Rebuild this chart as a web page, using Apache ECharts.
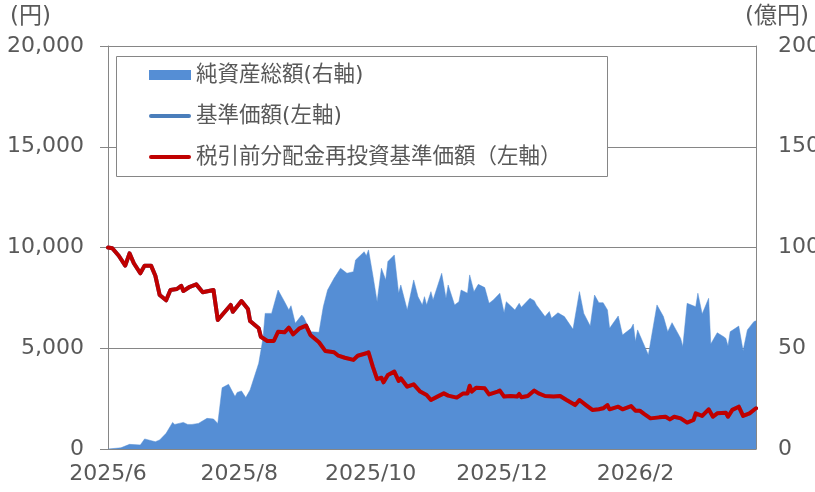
<!DOCTYPE html>
<html>
<head>
<meta charset="utf-8">
<script src="https://cdn.jsdelivr.net/npm/echarts@6/dist/echarts.min.js"></script>
<style>
html,body{margin:0;padding:0;background:#fff;}
#chart{width:815px;height:492px;}
</style>
</head>
<body>
<div id="chart"></div>
<script>
// ---- data ----
const seriesNames = ['純資産総額(右軸)', '基準価額(左軸)', '税引前分配金再投資基準価額（左軸）'];
const monthTicks = ['2025-06-01', '2025-08-01', '2025-10-01', '2025-12-01', '2026-02-01'];
const leftTicks = [0, 5000, 10000, 15000, 20000];
const rightTicks = [0, 50, 100, 150, 200];

const priceDates = [
'2025-06-01','2025-06-03','2025-06-06','2025-06-09','2025-06-11','2025-06-13','2025-06-16','2025-06-18','2025-06-21','2025-06-23',
'2025-06-25','2025-06-28','2025-06-30','2025-07-03','2025-07-05','2025-07-06','2025-07-09','2025-07-12','2025-07-15','2025-07-20',
'2025-07-22','2025-07-24','2025-07-28','2025-07-29','2025-08-02','2025-08-05','2025-08-06','2025-08-10','2025-08-11','2025-08-14',
'2025-08-17','2025-08-19','2025-08-22','2025-08-24','2025-08-26','2025-08-29','2025-09-01','2025-09-03','2025-09-07','2025-09-10',
'2025-09-14','2025-09-16','2025-09-19','2025-09-23','2025-09-25','2025-09-29','2025-09-30','2025-10-02','2025-10-04','2025-10-06',
'2025-10-07','2025-10-09','2025-10-12','2025-10-14','2025-10-15','2025-10-18','2025-10-21','2025-10-24','2025-10-27','2025-10-29',
'2025-11-01','2025-11-04','2025-11-06','2025-11-10','2025-11-13','2025-11-15','2025-11-16','2025-11-17','2025-11-19','2025-11-23',
'2025-11-25','2025-11-29','2025-11-30','2025-12-02','2025-12-05','2025-12-08','2025-12-09','2025-12-10','2025-12-13','2025-12-16',
'2025-12-18','2025-12-21','2025-12-25','2025-12-28','2025-12-31','2026-01-04','2026-01-06','2026-01-09','2026-01-12','2026-01-15',
'2026-01-17','2026-01-19','2026-01-20','2026-01-24','2026-01-26','2026-01-30','2026-02-01','2026-02-03','2026-02-05','2026-02-08',
'2026-02-12','2026-02-15','2026-02-17','2026-02-19','2026-02-22','2026-02-25','2026-02-28','2026-03-01','2026-03-04','2026-03-07',
'2026-03-09','2026-03-11','2026-03-15','2026-03-16','2026-03-18','2026-03-21','2026-03-23','2026-03-26','2026-03-29'
];
// 基準価額 and 税引前分配金再投資基準価額 coincide (no distributions)
const navValues = [
10000,9960,9590,9100,9710,9220,8720,9100,9100,8600,
7640,7380,7890,7940,8100,7840,8050,8170,7780,7890,
6400,6650,7150,6810,7340,6950,6350,5990,5570,5360,
5360,5820,5790,6020,5690,5990,6120,5660,5300,4860,
4800,4630,4530,4420,4630,4750,4800,4090,3470,3540,
3310,3670,3840,3380,3510,3090,3210,2850,2680,2430,
2600,2760,2650,2550,2760,2760,3140,2850,3040,3010,
2710,2850,2900,2600,2630,2600,2730,2570,2630,2900,
2760,2630,2600,2630,2430,2180,2430,2180,1940,1970,
2020,2180,1970,2100,1970,2130,1900,1900,1740,1520,
1570,1600,1470,1600,1520,1310,1440,1770,1640,1970,
1600,1770,1800,1600,1940,2100,1640,1770,2020
];

const assetDates = [
'2025-06-01','2025-06-07','2025-06-11','2025-06-16','2025-06-18','2025-06-23','2025-06-25','2025-06-28','2025-07-01','2025-07-02',
'2025-07-06','2025-07-08','2025-07-10','2025-07-13','2025-07-17','2025-07-20','2025-07-22','2025-07-24','2025-07-27','2025-07-30',
'2025-07-31','2025-08-02','2025-08-04','2025-08-06','2025-08-10','2025-08-12','2025-08-13','2025-08-16','2025-08-19','2025-08-22',
'2025-08-24','2025-08-25','2025-08-27','2025-08-30','2025-08-31','2025-09-03','2025-09-07','2025-09-09','2025-09-11','2025-09-14',
'2025-09-17','2025-09-20','2025-09-23','2025-09-24','2025-09-28','2025-09-29','2025-09-30','2025-10-02','2025-10-04','2025-10-06',
'2025-10-08','2025-10-09','2025-10-12','2025-10-14','2025-10-15','2025-10-18','2025-10-21','2025-10-23','2025-10-25','2025-10-26',
'2025-10-27','2025-10-29','2025-10-30','2025-11-03','2025-11-05','2025-11-06','2025-11-09','2025-11-11','2025-11-12','2025-11-15',
'2025-11-16','2025-11-18','2025-11-20','2025-11-23','2025-11-25','2025-11-27','2025-11-30','2025-12-02','2025-12-03','2025-12-07',
'2025-12-09','2025-12-10','2025-12-14','2025-12-16','2025-12-17','2025-12-21','2025-12-23','2025-12-24','2025-12-27','2025-12-30',
'2026-01-03','2026-01-06','2026-01-08','2026-01-11','2026-01-13','2026-01-15','2026-01-17','2026-01-19','2026-01-20','2026-01-24',
'2026-01-26','2026-01-27','2026-01-30','2026-01-31','2026-02-01','2026-02-02','2026-02-07','2026-02-11','2026-02-14','2026-02-16',
'2026-02-18','2026-02-22','2026-02-23','2026-02-25','2026-03-01','2026-03-02','2026-03-04','2026-03-07','2026-03-08','2026-03-11',
'2026-03-14','2026-03-15','2026-03-16','2026-03-17','2026-03-21','2026-03-23','2026-03-25','2026-03-28','2026-03-29'
];
const assetValues = [
0,0.6,2.3,2.0,5.0,3.6,4.5,7.8,13.2,12.2,
13.2,12.2,12.2,12.7,15.2,14.9,12.7,30.4,32.1,26.0,
28.1,28.8,25.5,29.3,42.5,54.9,67.3,67.3,78.9,73.1,
69.0,71.1,62.4,66.5,65.2,58.2,57.9,70.6,78.9,84.7,
89.7,87.2,88.0,93.8,97.9,95.9,98.8,86.4,73.1,89.7,
83.9,93.0,96.3,77.3,81.4,69.0,83.9,75.6,71.5,75.6,
71.5,78.1,74.0,87.2,74.8,81.4,71.5,73.1,78.9,77.3,
86.4,78.1,81.7,80.1,72.3,74.0,77.3,67.6,73.1,69.0,
72.3,70.3,74.8,73.6,71.5,65.7,68.2,64.9,67.6,65.7,
59.4,78.1,67.3,61.0,76.4,72.6,72.6,69.0,59.9,66.0,
56.6,57.4,59.9,62.0,53.3,59.1,46.7,71.5,65.7,58.2,
62.7,54.9,50.8,72.3,70.6,77.3,67.0,74.8,52.1,57.7,
55.7,54.9,51.1,58.2,61.0,48.8,59.1,63.2,63.6
];
const axisStart = '2025-06-01';
const axisEnd = '2026-03-29';

// ---- chart ----
const FONT = "'DejaVu Sans', 'Noto Sans CJK JP', sans-serif";
const TXT = '#595959';
const AX = '#868686';
const LINE_ICON = 'path://M2,0H40A2,2,0,0,1,40,4H2A2,2,0,0,1,2,0Z';
const ts = d => echarts.time.parse(d).getTime();
const chart = echarts.init(document.getElementById('chart'), null, {renderer: 'canvas'});
const tickTs = monthTicks.map(ts);

chart.setOption({
  animation: false,
  backgroundColor: '#fff',
  textStyle: {fontFamily: FONT},
  grid: {left: 108, right: 59, top: 46, bottom: 43, containLabel: false, outerBoundsMode: 'none'},
  graphic: [
    {type: 'text', left: 10, top: 6, z: 50, style: {text: '(円)', fill: TXT, font: '23px ' + FONT}},
    {type: 'text', left: 745, top: 6, z: 50, style: {text: '(億円)', fill: TXT, font: '23px ' + FONT}},
    {type: 'rect', z: 10, shape: {x: 116.5, y: 56.5, width: 491, height: 120},
      style: {fill: '#fff', stroke: AX, lineWidth: 1}}
  ],
  legend: {
    z: 20,
    left: 149, top: 63,
    orient: 'vertical',
    padding: 0,
    itemGap: 17,
    itemWidth: 42,
    itemHeight: 10,
    symbolKeepAspect: true,
    selectedMode: false,
    textStyle: {fontFamily: FONT, fontSize: 21.5, color: TXT, lineHeight: 24},
    data: [
      {name: seriesNames[0], icon: 'rect'},
      {name: seriesNames[1], icon: LINE_ICON},
      {name: seriesNames[2], icon: LINE_ICON}
    ]
  },
  xAxis: {
    type: 'value',
    min: ts(axisStart),
    max: ts(axisEnd),
    splitLine: {show: false},
    axisLine: {lineStyle: {color: AX, width: 1}},
    axisTick: {show: true, inside: true, length: 6, customValues: tickTs, lineStyle: {color: AX}},
    axisLabel: {
      customValues: tickTs,
      margin: 14,
      fontSize: 22, fontFamily: FONT, color: TXT,
      formatter: function (v) { const d = new Date(v); return d.getFullYear() + '/' + (d.getMonth() + 1); }
    }
  },
  yAxis: [
    {
      type: 'value', min: leftTicks[0], max: leftTicks[leftTicks.length - 1], interval: leftTicks[1] - leftTicks[0],
      axisLine: {show: true, lineStyle: {color: AX}},
      axisTick: {show: true, length: 8, lineStyle: {color: AX}},
      splitLine: {show: true, lineStyle: {color: AX, width: 1}},
      axisLabel: {margin: 24, fontSize: 22, fontFamily: FONT, color: TXT,
        formatter: v => v.toLocaleString('en-US')}
    },
    {
      type: 'value', min: rightTicks[0], max: rightTicks[rightTicks.length - 1], interval: rightTicks[1] - rightTicks[0],
      position: 'right',
      axisLine: {show: true, lineStyle: {color: AX}},
      axisTick: {show: false},
      splitLine: {show: false},
      axisLabel: {margin: 22, fontSize: 22, fontFamily: FONT, color: TXT, align: 'left'}
    }
  ],
  series: [
    {
      name: seriesNames[0], type: 'line', yAxisIndex: 1,
      data: assetDates.map((d, i) => [ts(d), assetValues[i]]),
      symbol: 'none', color: '#558ED5',
      lineStyle: {width: 0.5, color: '#558ED5'},
      areaStyle: {color: '#558ED5', opacity: 1},
      z: 1
    },
    {
      name: seriesNames[1], type: 'line', yAxisIndex: 0,
      data: priceDates.map((d, i) => [ts(d), navValues[i]]),
      symbol: 'none', color: '#4A7EBB',
      lineStyle: {width: 4, color: '#4A7EBB', cap: 'round', join: 'round'},
      z: 2
    },
    {
      name: seriesNames[2], type: 'line', yAxisIndex: 0,
      data: priceDates.map((d, i) => [ts(d), navValues[i]]),
      symbol: 'none', color: '#C00000',
      lineStyle: {width: 4, color: '#C00000', cap: 'round', join: 'round'},
      z: 3
    }
  ]
});
</script>
</body>
</html>
